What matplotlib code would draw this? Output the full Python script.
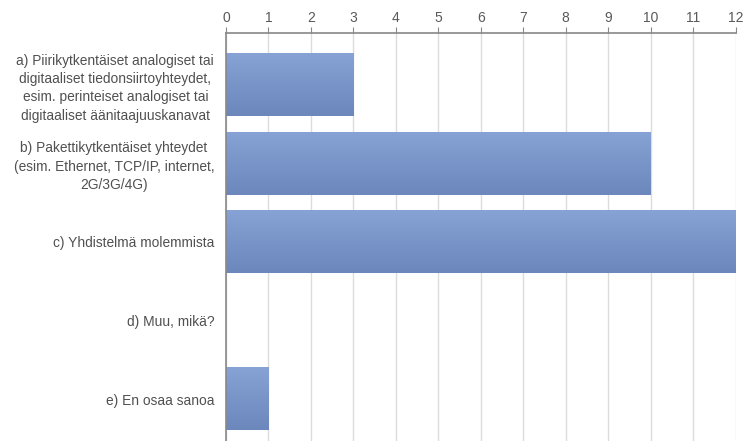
import numpy as np
import matplotlib.pyplot as plt
from matplotlib.colors import LinearSegmentedColormap

labels = [
    "a) Piirikytkentäiset analogiset tai\ndigitaaliset tiedonsiirtoyhteydet,\nesim. perinteiset analogiset tai\ndigitaaliset äänitaajuuskanavat",
    "b) Pakettikytkentäiset yhteydet\n(esim. Ethernet, TCP/IP, internet,\n2G/3G/4G)",
    "c) Yhdistelmä molemmista",
    "d) Muu, mikä?",
    "e) En osaa sanoa",
]
counts = [3, 10, 12, 0, 1]
xticks = list(range(0, 13))

plt.rcParams["font.family"] = ["Liberation Sans", "DejaVu Sans"]

fig = plt.figure(figsize=(7.49, 4.41), dpi=100)
ax = fig.add_axes([226 / 749, 0.0, (735.5 - 226) / 749, (441 - 33) / 441])

ypos = np.arange(len(labels))
bars = ax.barh(ypos, counts, height=0.8, color="none", zorder=2)

# vertical gradient fill for each bar
cmap = LinearSegmentedColormap.from_list("bar", ["#87a2d4", "#6b87bc"])
grad = np.linspace(0, 1, 100).reshape(-1, 1)
for b in bars:
    w = b.get_width()
    if w <= 0:
        continue
    y0 = b.get_y()
    h = b.get_height()
    ax.imshow(grad, cmap=cmap, aspect="auto", zorder=2,
              extent=(0, w, y0 + h, y0), interpolation="bilinear")

ax.set_xlim(0, 12)
ax.set_ylim(4.534, -0.655)
ax.set_xticks(xticks)
ax.xaxis.tick_top()
ax.tick_params(axis="x", colors="#888888", labelcolor="#595959", labelsize=10,
               length=4, direction="out", pad=2)
ax.set_yticks(ypos)
ax.set_yticklabels(labels, fontsize=9.9, color="#505050", ha="right")
for t in ax.get_yticklabels():
    t.set_linespacing(1.4)
    t.set_multialignment("center")
ax.tick_params(axis="y", length=0, pad=8.5)
ax.grid(axis="x", color="#dcdcdc", linewidth=1, zorder=0)
ax.set_axisbelow(True)

for s in ["right", "bottom"]:
    ax.spines[s].set_visible(False)
ax.spines["top"].set_color("#888888")
ax.spines["left"].set_color("#888888")
ax.spines["top"].set_linewidth(1.2)
ax.spines["left"].set_linewidth(1.2)

fig.savefig("out.png", dpi=100)
